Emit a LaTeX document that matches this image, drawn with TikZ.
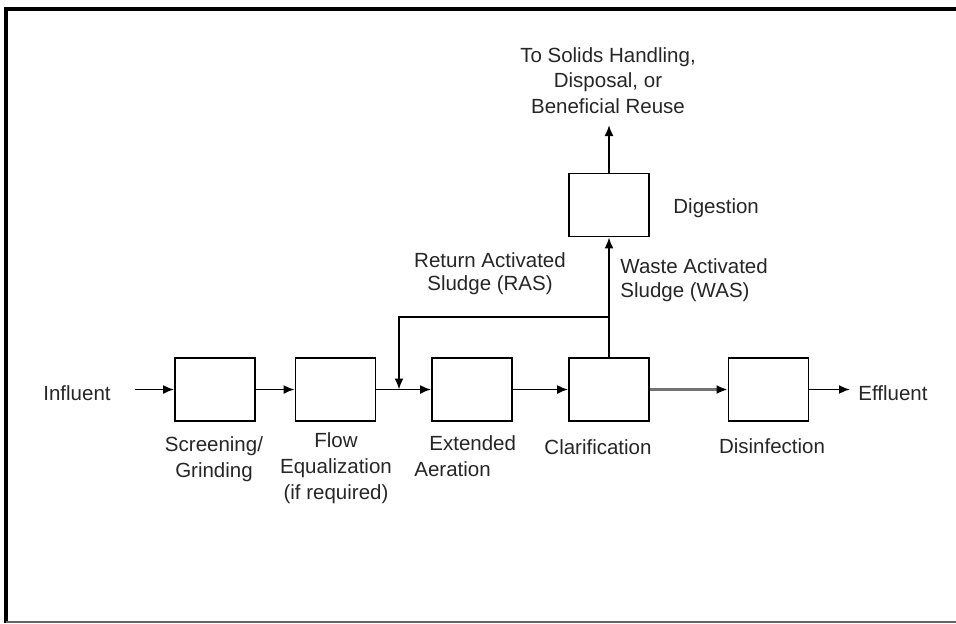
\documentclass[tikz,border=0pt]{standalone}
\usepackage{fontspec}
\setmainfont{Liberation Sans}
\usetikzlibrary{arrows.meta}
\begin{document}
\begin{tikzpicture}[x=0.5pt,y=-0.5pt,
  proc/.style={draw=black, line width=0.9pt, minimum width=40pt, minimum height=31.5pt, inner sep=0pt},
  lbl/.style={inner sep=0pt, font=\fontsize{10.25pt}{13pt}\selectfont, text=black!85},
  flow/.style={draw=black, line width=0.9pt, -{Latex[length=5.5pt,width=4.5pt]}},
  flowthick/.style={draw=black!55, line width=1.6pt, -{Latex[length=5.5pt,width=4.5pt,fill=black,color=black]}}
]
\useasboundingbox (0,0) rectangle (956,623);
% frame
\draw[line width=2pt] (6,623) -- (6,8.5) -- (956,8.5);
\draw[line width=1pt, black!60] (6,621.5) -- (956,621.5);

% process boxes
\node[proc] (scr) at (215,389.5) {};
\node[proc] (feq) at (335.5,389.5) {};
\node[proc] (ext) at (472,389.5) {};
\node[proc] (cla) at (609,389.5) {};
\node[proc] (dis) at (768.5,389.5) {};
\node[proc] (dig) at (609,205) {};

% free ends
\coordinate (in) at (135,389.5);
\coordinate (out) at (850,389.5);
\coordinate (jn) at (609,317);
\coordinate (ras) at (399,389.5);
\coordinate (up) at (609,125);

% connectors
\draw[flow] (in) -- (scr.west);
\draw[flow] (scr.east) -- (feq.west);
\draw[flow] (feq.east) -- (ext.west);
\draw[flow] (ext.east) -- (cla.west);
\draw[flowthick] (cla.east) -- (dis.west);
\draw[flow] (dis.east) -- (out);
\draw[flow] (cla.north) -- (jn) -| (ras);
\draw[flow] (jn) -- (dig.south);
\draw[flow] (dig.north) -- (up);

% labels
\node[lbl, anchor=base west] (tin) at (43,400) {Influent};
\node[lbl, anchor=base west] (tout) at (858,400) {Effluent};
\node[lbl, anchor=north, align=center] (lscr) at (214,436) {Screening/\\Grinding};
\node[lbl, anchor=north, align=center] (lfeq) at (336,432) {Flow\\Equalization\\(if required)};
\node[lbl, anchor=north west, align=left] (lext) at (414,435) {\hspace*{7.5pt}Extended\\Aeration};
\node[lbl, anchor=base] (lcla) at (598,454) {Clarification};
\node[lbl, anchor=base] (ldis) at (772,453) {Disinfection};
\node[lbl, anchor=base west] (ldig) at (673,213) {Digestion};
\node[lbl, anchor=north, align=center, font=\fontsize{10.25pt}{11.75pt}\selectfont] (lras) at (490,252) {Return Activated\\Sludge (RAS)};
\node[lbl, anchor=north west, align=left, font=\fontsize{10.25pt}{12pt}\selectfont] (lwas) at (620,258) {Waste Activated\\Sludge (WAS)};
\node[lbl, anchor=north, align=center, font=\fontsize{10.25pt}{12.75pt}\selectfont] (lsol) at (608,47) {To Solids Handling,\\Disposal, or\\Beneficial Reuse};
\end{tikzpicture}
\end{document}
